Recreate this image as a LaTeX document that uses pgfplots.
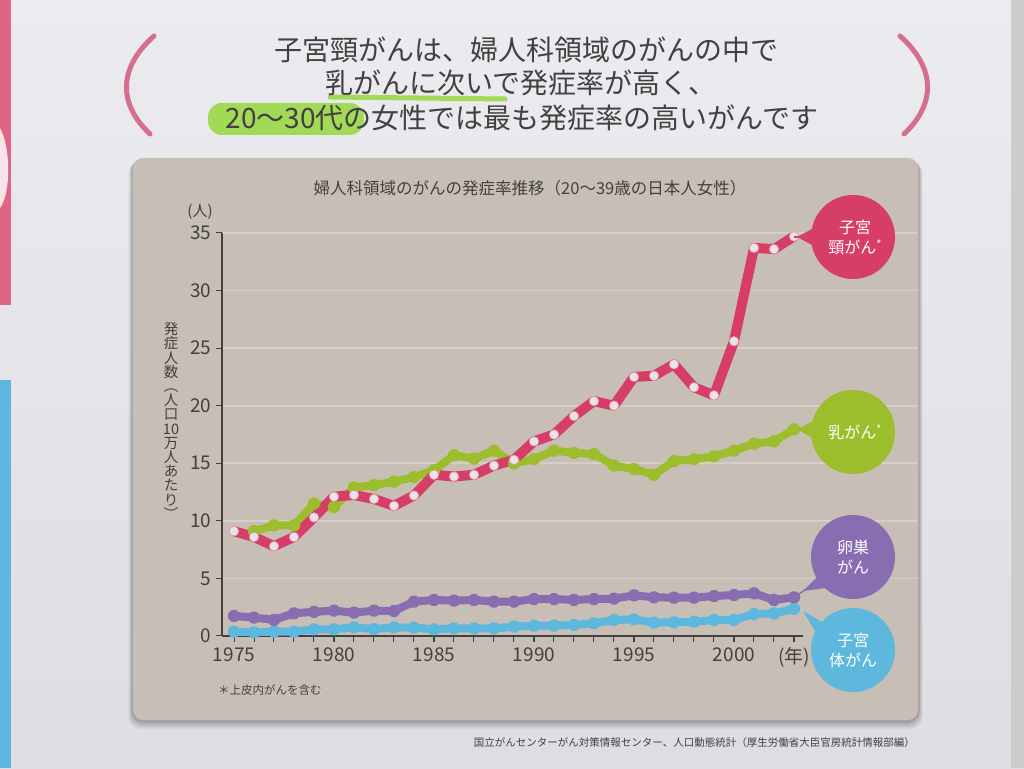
\documentclass[border=0pt]{standalone}
\usepackage{fontspec}
\setmainfont{Noto Sans CJK JP}
\usepackage{pgfplots}
\pgfplotsset{compat=1.18}
\usepackage{pgfplotstable}

\definecolor{paper}{RGB}{222,221,226}
\definecolor{paperlight}{RGB}{236,235,239}
\definecolor{panel}{RGB}{199,191,181}
\definecolor{gridc}{RGB}{213,207,199}
\definecolor{ink}{RGB}{66,64,64}
\definecolor{cervix}{RGB}{214,62,104}
\definecolor{breast}{RGB}{156,190,44}
\definecolor{ovary}{RGB}{136,110,176}
\definecolor{corpus}{RGB}{94,184,222}
\definecolor{dotc}{RGB}{234,228,234}
\definecolor{marker}{RGB}{150,215,60}
\definecolor{parenc}{RGB}{212,112,142}

% incidence per 100,000 women aged 20-39
\pgfplotstableread{
year v
1975 9.1
1976 8.6
1977 7.8
1978 8.6
1979 10.3
1980 12.1
1981 12.25
1982 11.9
1983 11.3
1984 12.2
1985 14.0
1986 13.85
1987 14.0
1988 14.8
1989 15.3
1990 16.9
1991 17.5
1992 19.1
1993 20.4
1994 20.0
1995 22.5
1996 22.6
1997 23.6
1998 21.6
1999 20.9
2000 25.6
2001 33.7
2002 33.6
2003 34.7
}\cervixdata

\pgfplotstableread{
year v
1976 9.1
1977 9.6
1978 9.6
1979 11.5
1980 11.2
1981 12.9
1982 13.1
1983 13.4
1984 13.8
1985 14.4
1986 15.7
1987 15.4
1988 16.1
1989 15.0
1990 15.35
1991 16.1
1992 15.9
1993 15.8
1994 14.8
1995 14.5
1996 14.0
1997 15.2
1998 15.35
1999 15.6
2000 16.1
2001 16.7
2002 16.9
2003 17.95
}\breastdata

\pgfplotstableread{
year v
1975 1.74
1976 1.6
1977 1.4
1978 1.97
1979 2.1
1980 2.2
1981 2.03
1982 2.2
1983 2.17
1984 2.98
1985 3.13
1986 3.07
1987 3.13
1988 2.98
1989 2.98
1990 3.21
1991 3.21
1992 3.13
1993 3.21
1994 3.24
1995 3.53
1996 3.36
1997 3.33
1998 3.33
1999 3.47
2000 3.56
2001 3.7
2002 3.13
2003 3.36
}\ovarydata

\pgfplotstableread{
year v
1975 0.38
1976 0.32
1977 0.38
1978 0.38
1979 0.58
1980 0.58
1981 0.75
1982 0.6
1983 0.75
1984 0.72
1985 0.58
1986 0.67
1987 0.67
1988 0.67
1989 0.81
1990 0.9
1991 0.9
1992 0.96
1993 1.1
1994 1.39
1995 1.45
1996 1.16
1997 1.19
1998 1.24
1999 1.39
2000 1.39
2001 1.91
2002 1.97
2003 2.35
}\corpusdata

\begin{document}
\begin{tikzpicture}[x=1pt,y=1pt]
% page
\shade[bottom color=paper, top color=paperlight] (0,0) rectangle (1024,768);
\fill[cervix!80!white] (0,463) rectangle (11,768);
\fill[white!85!cervix] (0,560) .. controls (11,575) and (11,620) .. (0,640) -- cycle;
\fill[corpus] (0,0) rectangle (11,388);
\fill[black!20] (1011,0) rectangle (1024,768);

% headline
\fill[marker, opacity=0.85, rounded corners=14pt] (208,633) rectangle (364,665);
\draw[marker, line width=5pt, line cap=round, opacity=0.85] (330,671) -- (505,669);
\draw[parenc, line width=5pt, line cap=round] (154,732) .. controls (118,700) and (118,664) .. (150,634);
\draw[parenc, line width=5pt, line cap=round] (900,732) .. controls (936,700) and (936,664) .. (904,634);
\begin{scope}[every node/.style={text=ink, inner sep=0pt, font=\fontsize{28}{30}\selectfont}]
\node at (526,718) {子宮頸がんは、婦人科領域のがんの中で};
\node at (521,685) {乳がんに次いで発症率が高く、};
\node at (522,650) {20～30代の女性では最も発症率の高いがんです};
\end{scope}

% chart panel with soft shadow
\foreach \s/\o in {9/0.05,7/0.07,5/0.08,3/0.10} {
  \fill[black, opacity=\o, rounded corners=12pt] (133-\s/2,48-\s) rectangle (918+\s/2,610-\s/3);
}
\fill[panel, rounded corners=10pt] (133,48) rectangle (918,610);

\node[text=ink, font=\fontsize{16.5}{18}\selectfont, inner sep=0pt] at (530,580) {婦人科領域のがんの発症率推移（20～39歳の日本人女性）};
\node[text=ink, font=\fontsize{15}{16}\selectfont, inner sep=0pt] at (200,556) {(人)};
\node[text=ink, font=\fontsize{14.5}{14.2}\selectfont, align=center, inner sep=0pt] at (171,347)
  {発\\症\\人\\数\\︵\\人\\口\\10\\万\\人\\あ\\た\\り\\︶};

\begin{axis}[
  at={(222pt,132pt)}, anchor=south west,
  scale only axis, width=581pt, height=403pt,
  xmin=1974.4, xmax=2003.45, ymin=0, ymax=35,
  axis x line*=bottom, axis y line*=left,
  axis line style={ink, line width=1.3pt, -},
  xtick={1975,1980,1985,1990,1995,2000,2003},
  xticklabels={1975,1980,1985,1990,1995,2000,(年)},
  minor xtick={1975,...,2003},
  ytick={0,5,...,35},
  tick align=outside, tick pos=left,
  major tick length=6pt, minor tick length=6pt,
  every tick/.style={ink, line width=1pt},
  tick label style={text=ink, font=\fontsize{19}{20}\selectfont},
  xticklabel style={yshift=-2pt},
  yticklabel style={xshift=-1pt},
  /pgf/number format/assume math mode=true,
  /pgf/number format/set thousands separator={},
  clip=false,
  line join=round,
]
% horizontal guide lines
\pgfplotsinvokeforeach{5,10,...,35}{
  \draw[gridc, line width=1.6pt] (axis cs:1974.45,#1) -- (axis cs:2009.2,#1);
}
\addplot[corpus, line width=8pt, mark=*, mark size=2.3pt,
  mark options={fill=dotc, draw=none}] table[x=year,y=v] {\corpusdata};
\addplot[ovary, line width=8pt, mark=*, mark size=2.3pt,
  mark options={fill=dotc, draw=none}] table[x=year,y=v] {\ovarydata};
\addplot[breast, line width=8pt, mark=*, mark size=2.3pt,
  mark options={fill=dotc, draw=none}] table[x=year,y=v] {\breastdata};
\addplot[cervix, line width=10pt, mark=*, mark size=4.8pt,
  mark options={fill=dotc, draw=cervix!60!white, line width=0.6pt}] table[x=year,y=v] {\cervixdata};
\end{axis}

% callout bubbles
\begin{scope}[every node/.style={text=white, align=center, inner sep=0pt, font=\fontsize{16}{20}\selectfont}]
\fill[cervix] (814,540) -- (797,531) -- (814,522) -- cycle;
\draw[cervix, line width=1.5pt] (794,531) -- (812,531);
\fill[cervix] (853,531) circle (42);
\node at (855,531) {子宮\\頸がん\raisebox{5pt}{\fontsize{11}{11}\selectfont *}};

\fill[breast] (814,347) -- (797,339) -- (814,329) -- cycle;
\fill[breast] (853,336) circle (42);
\node at (855,336) {乳がん\raisebox{5pt}{\fontsize{11}{11}\selectfont *}};

\fill[ovary] (818,192) -- (803,177) -- (826,180) -- cycle;
\draw[ovary, line width=1.5pt] (794,171) -- (808,180);
\fill[ovary] (853,211) circle (42);
\node at (853,211) {卵巣\\がん};

\fill[corpus] (822,146) -- (803,157) -- (818,132) -- cycle;
\fill[corpus] (853,118) circle (42);
\node at (853,118) {子宮\\体がん};
\end{scope}

\node[text=ink, anchor=west, inner sep=0pt, font=\fontsize{11.5}{12}\selectfont] at (218,78) {＊上皮内がんを含む};
\node[text=ink, anchor=east, inner sep=0pt, font=\fontsize{10.5}{12}\selectfont] at (915,25)
  {国立がんセンターがん対策情報センター、人口動態統計（厚生労働省大臣官房統計情報部編）};
\end{tikzpicture}
\end{document}
